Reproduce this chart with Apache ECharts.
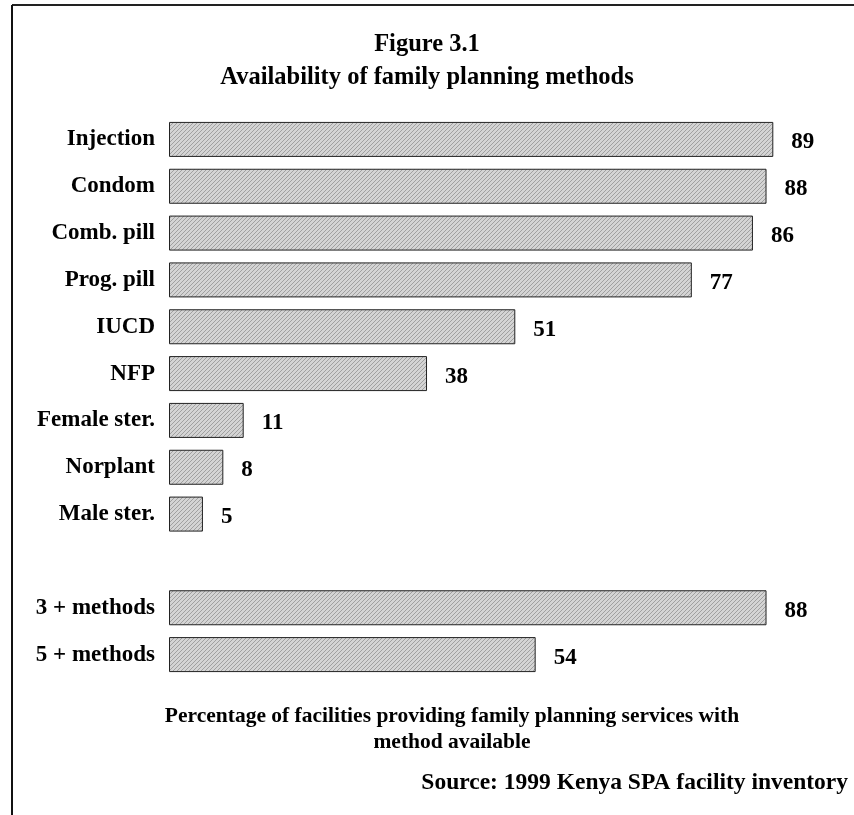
<!DOCTYPE html>
<html>
<head>
<meta charset="utf-8">
<script src="https://cdn.jsdelivr.net/npm/echarts@6/dist/echarts.min.js"></script>
<style>
  html, body { margin: 0; padding: 0; background: #fff; }
  #chart { width: 854px; height: 815px; }
</style>
</head>
<body>
<div id="chart"></div>
<script>
// categories top to bottom, '' is the empty gap row
const categories = ['Injection', 'Condom', 'Comb. pill', 'Prog. pill', 'IUCD', 'NFP',
  'Female ster.', 'Norplant', 'Male ster.', '', '3 + methods', '5 + methods']
const values = [89, 88, 86, 77, 51, 38, 11, 8, 5, '-', 88, 54]

const titleText = 'Figure 3.1\nAvailability of family planning methods'
const captionText = 'Percentage of facilities providing family planning services with\nmethod available'
const sourceText = 'Source: 1999 Kenya SPA facility inventory'

const FONT = '"Liberation Serif", "Times New Roman", serif'

// hatched grey fill like the printed figure
const makeHatch = () => {
  const c = document.createElement('canvas')
  c.width = 4
  c.height = 4
  const ctx = c.getContext('2d')
  ctx.fillStyle = '#d4d4d4'
  ctx.fillRect(0, 0, 4, 4)
  ctx.strokeStyle = '#a0a0a0'
  ctx.lineWidth = 1
  ctx.beginPath()
  ctx.moveTo(0, 4); ctx.lineTo(4, 0)
  ctx.moveTo(-1, 1); ctx.lineTo(1, -1)
  ctx.moveTo(3, 5); ctx.lineTo(5, 3)
  ctx.stroke()
  return c
}

const chart = echarts.init(document.getElementById('chart'))

const option = {
  animation: false,
  backgroundColor: '#fff',
  title: {
    text: titleText,
    left: 'center',
    top: 23,
    textStyle: {
      fontFamily: FONT,
      fontWeight: 'bold',
      fontSize: 24.5,
      lineHeight: 33,
      color: '#000'
    }
  },
  grid: {
    left: 169,
    width: 679,
    top: 116,
    height: 562
  },
  xAxis: {
    type: 'value',
    min: 0,
    max: 100,
    show: false
  },
  yAxis: {
    type: 'category',
    inverse: true,
    data: categories,
    axisLine: { show: false },
    axisTick: { show: false },
    axisLabel: {
      margin: 14,
      padding: [6, 0, 0, 0],
      color: '#000',
      fontFamily: FONT,
      fontWeight: 'bold',
      fontSize: 23
    }
  },
  series: [
    {
      type: 'bar',
      data: values,
      barWidth: 35,
      itemStyle: {
        color: { image: makeHatch(), repeat: 'repeat' },
        borderColor: '#222',
        borderWidth: 1
      },
      label: {
        show: true,
        position: 'right',
        distance: 18,
        offset: [0, 3],
        color: '#000',
        fontFamily: FONT,
        fontWeight: 'bold',
        fontSize: 23
      }
    }
  ],
  graphic: [
    // frame: top and left rule
    { type: 'line', shape: { x1: 12, y1: 5, x2: 854, y2: 5 }, style: { stroke: '#222', lineWidth: 2 } },
    { type: 'line', shape: { x1: 12, y1: 5, x2: 12, y2: 815 }, style: { stroke: '#111', lineWidth: 2 } },
    {
      type: 'text',
      x: 452,
      y: 703,
      style: {
        text: captionText,
        align: 'center',
        fontFamily: FONT,
        fontWeight: 'bold',
        fontSize: 21.5,
        lineHeight: 26,
        fill: '#000'
      }
    },
    {
      type: 'text',
      x: 848,
      y: 771,
      style: {
        text: sourceText,
        align: 'right',
        fontFamily: FONT,
        fontWeight: 'bold',
        fontSize: 23.5,
        fill: '#000'
      }
    }
  ]
}

chart.setOption(option)
window.addEventListener('resize', () => {
  chart.resize()
})
</script>
</body>
</html>
